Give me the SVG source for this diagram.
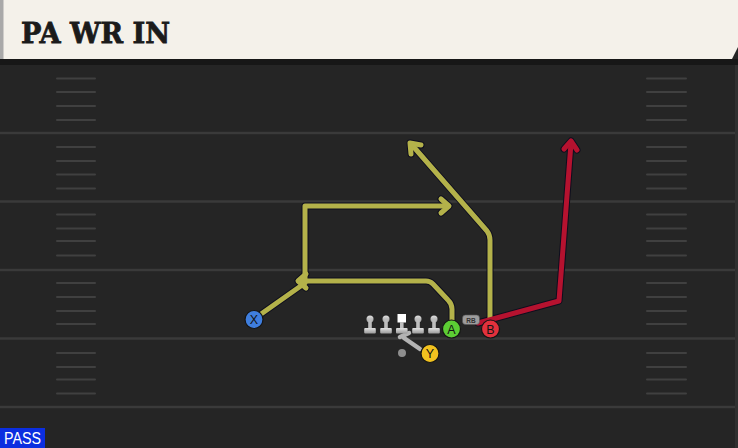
<svg xmlns="http://www.w3.org/2000/svg" xmlns:xlink="http://www.w3.org/1999/xlink" width="738" height="448" viewBox="0 0 738 448">
<style>
.yard{stroke:#3a3a3a;stroke-width:2.5}
.hash{stroke:#404040;stroke-width:2;stroke-linecap:round}
.outline{fill:none;stroke:#0e0e1e;stroke-width:7;stroke-linejoin:round;stroke-linecap:round}
.route{fill:none;stroke:#b4b24a;stroke-width:5;stroke-linejoin:round;stroke-linecap:round}
.red{fill:none;stroke:#b5122f;stroke-width:5;stroke-linejoin:round;stroke-linecap:round}
.pl{stroke:#151515;stroke-width:1.2}
.lbl{font-family:"Liberation Sans",Arial,sans-serif;font-size:12.5px;fill:#141414;text-anchor:middle}
</style>
<defs>
<linearGradient id="lg" x1="0" y1="0" x2="0" y2="1"><stop offset="0" stop-color="#e0e0e0"/><stop offset="1" stop-color="#9a9a9a"/></linearGradient>
<g id="lineman"><circle cx="0" cy="0" r="3.5" fill="url(#lg)"/><rect x="-1.8" y="0" width="3.6" height="10" fill="#bdbdbd"/><rect x="-5.8" y="9" width="11.6" height="5.5" rx="1" fill="url(#lg)"/></g>
</defs>
<rect width="738" height="448" fill="#252525"/>
<g id="field">
<line class="yard" x1="0" y1="133" x2="738" y2="133"/>
<line class="yard" x1="0" y1="201.5" x2="738" y2="201.5"/>
<line class="yard" x1="0" y1="270" x2="738" y2="270"/>
<line class="yard" x1="0" y1="338.5" x2="738" y2="338.5"/>
<line class="yard" x1="0" y1="407" x2="738" y2="407"/>
<g class="hash">
<line x1="57" y1="78.5" x2="95" y2="78.5"/><line x1="57" y1="92" x2="95" y2="92"/><line x1="57" y1="106" x2="95" y2="106"/><line x1="57" y1="120" x2="95" y2="120"/>
<line x1="57" y1="147" x2="95" y2="147"/><line x1="57" y1="161" x2="95" y2="161"/><line x1="57" y1="174.5" x2="95" y2="174.5"/><line x1="57" y1="188.5" x2="95" y2="188.5"/>
<line x1="57" y1="214.5" x2="95" y2="214.5"/><line x1="57" y1="228.5" x2="95" y2="228.5"/><line x1="57" y1="241" x2="95" y2="241"/><line x1="57" y1="255.5" x2="95" y2="255.5"/>
<line x1="57" y1="283" x2="95" y2="283"/><line x1="57" y1="297" x2="95" y2="297"/><line x1="57" y1="311" x2="95" y2="311"/><line x1="57" y1="324" x2="95" y2="324"/>
<line x1="57" y1="353" x2="95" y2="353"/><line x1="57" y1="367" x2="95" y2="367"/><line x1="57" y1="379.5" x2="95" y2="379.5"/><line x1="57" y1="393.5" x2="95" y2="393.5"/>
<line x1="647" y1="78.5" x2="686" y2="78.5"/><line x1="647" y1="92" x2="686" y2="92"/><line x1="647" y1="106" x2="686" y2="106"/><line x1="647" y1="120" x2="686" y2="120"/>
<line x1="647" y1="147" x2="686" y2="147"/><line x1="647" y1="161" x2="686" y2="161"/><line x1="647" y1="174.5" x2="686" y2="174.5"/><line x1="647" y1="188.5" x2="686" y2="188.5"/>
<line x1="647" y1="214.5" x2="686" y2="214.5"/><line x1="647" y1="228.5" x2="686" y2="228.5"/><line x1="647" y1="241" x2="686" y2="241"/><line x1="647" y1="255.5" x2="686" y2="255.5"/>
<line x1="647" y1="283" x2="686" y2="283"/><line x1="647" y1="297" x2="686" y2="297"/><line x1="647" y1="311" x2="686" y2="311"/><line x1="647" y1="324" x2="686" y2="324"/>
<line x1="647" y1="353" x2="686" y2="353"/><line x1="647" y1="367" x2="686" y2="367"/><line x1="647" y1="379.5" x2="686" y2="379.5"/><line x1="647" y1="393.5" x2="686" y2="393.5"/>
</g>
<rect x="735" y="60" width="3" height="388" fill="#303030"/>
</g>
<g id="header">
<rect x="0" y="59" width="738" height="6" fill="#171717"/>
<path d="M0,0 H738 V47 L732,59 H0 Z" fill="#f4f1ea"/>
<rect x="0" y="0" width="3.5" height="59" fill="#a9a9a9"/>
<text x="21" y="43" font-family="'DejaVu Serif',serif" font-weight="bold" font-size="28" fill="#1b1b1b" stroke="#1b1b1b" stroke-width="0.8" textLength="149" lengthAdjust="spacingAndGlyphs">PA WR IN</text>
</g>
<g id="connectors">
<g class="outline">
<path d="M254,319 L305,283 L305,206 L447,206"/>
<path d="M441,199 L449,206 L441,213"/>
<path d="M452,320 L452,309 Q452,304 448,300 L433,284 Q430,281 426,281 L300,281"/>
<path d="M306,274 L298,281 L306,288"/>
<path d="M490,321 L490,240 Q490,235 487,231 L412,145"/>
<path d="M411,154 L410,143 L421,145"/>
<path d="M478,323 L559,301 L571,143"/>
<path d="M564,149 L571,141 L577,150"/>
</g>
<g class="route">
<path d="M254,319 L305,283 L305,206 L447,206"/>
<path d="M441,199 L449,206 L441,213"/>
<path d="M452,320 L452,309 Q452,304 448,300 L433,284 Q430,281 426,281 L300,281"/>
<path d="M306,274 L298,281 L306,288"/>
<path d="M490,321 L490,240 Q490,235 487,231 L412,145"/>
<path d="M411,154 L410,143 L421,145"/>
</g>
<g class="red">
<path d="M478,323 L559,301 L571,143"/>
<path d="M564,149 L571,141 L577,150"/>
</g>
<g fill="none" stroke="#b3b3b3" stroke-width="4.5" stroke-linecap="round">
<path d="M420,349 L404,338"/>
<path d="M400,337 L409,333"/>
</g>
</g>
<g id="line">
<use xlink:href="#lineman" x="370" y="319"/>
<use xlink:href="#lineman" x="386" y="319"/>
<use xlink:href="#lineman" x="418" y="319"/>
<use xlink:href="#lineman" x="434" y="319"/>
<g id="center"><rect x="397.5" y="314" width="8.5" height="8.5" fill="#ffffff"/><rect x="400" y="322" width="3.6" height="7" fill="#bdbdbd"/><rect x="396" y="328" width="11.6" height="5.5" rx="1" fill="url(#lg)"/></g>
</g>
<g id="qb"><circle cx="402" cy="353" r="4" fill="#8e8e8e"/></g>
<g id="rb"><rect x="462.5" y="315" width="17" height="9.5" rx="3" fill="#9c9c9c" stroke="#555" stroke-width="0.6"/><text x="471" y="322.5" font-family="'Liberation Sans',Arial,sans-serif" font-size="6.5" font-weight="bold" fill="#333" text-anchor="middle">RB</text></g>
<g id="X"><circle class="pl" cx="254" cy="319.5" r="9" fill="#3f7ede"/><text class="lbl" x="254" y="324">X</text></g>
<g id="A"><circle class="pl" cx="451.5" cy="329" r="9" fill="#5ccd34"/><text class="lbl" x="451.5" y="333.5">A</text></g>
<g id="B"><circle class="pl" cx="490.5" cy="329" r="9" fill="#e2313c"/><text class="lbl" x="490.5" y="333.5">B</text></g>
<g id="Y"><circle class="pl" cx="430" cy="353.5" r="9" fill="#f2c21f"/><text class="lbl" x="430" y="358">Y</text></g>
<g id="tag"><rect x="0" y="428" width="45" height="20" fill="#0b2ee0"/><text x="4" y="444" font-family="'Liberation Sans',Arial,sans-serif" font-size="16" fill="#ffffff" textLength="37" lengthAdjust="spacingAndGlyphs">PASS</text></g>
</svg>
